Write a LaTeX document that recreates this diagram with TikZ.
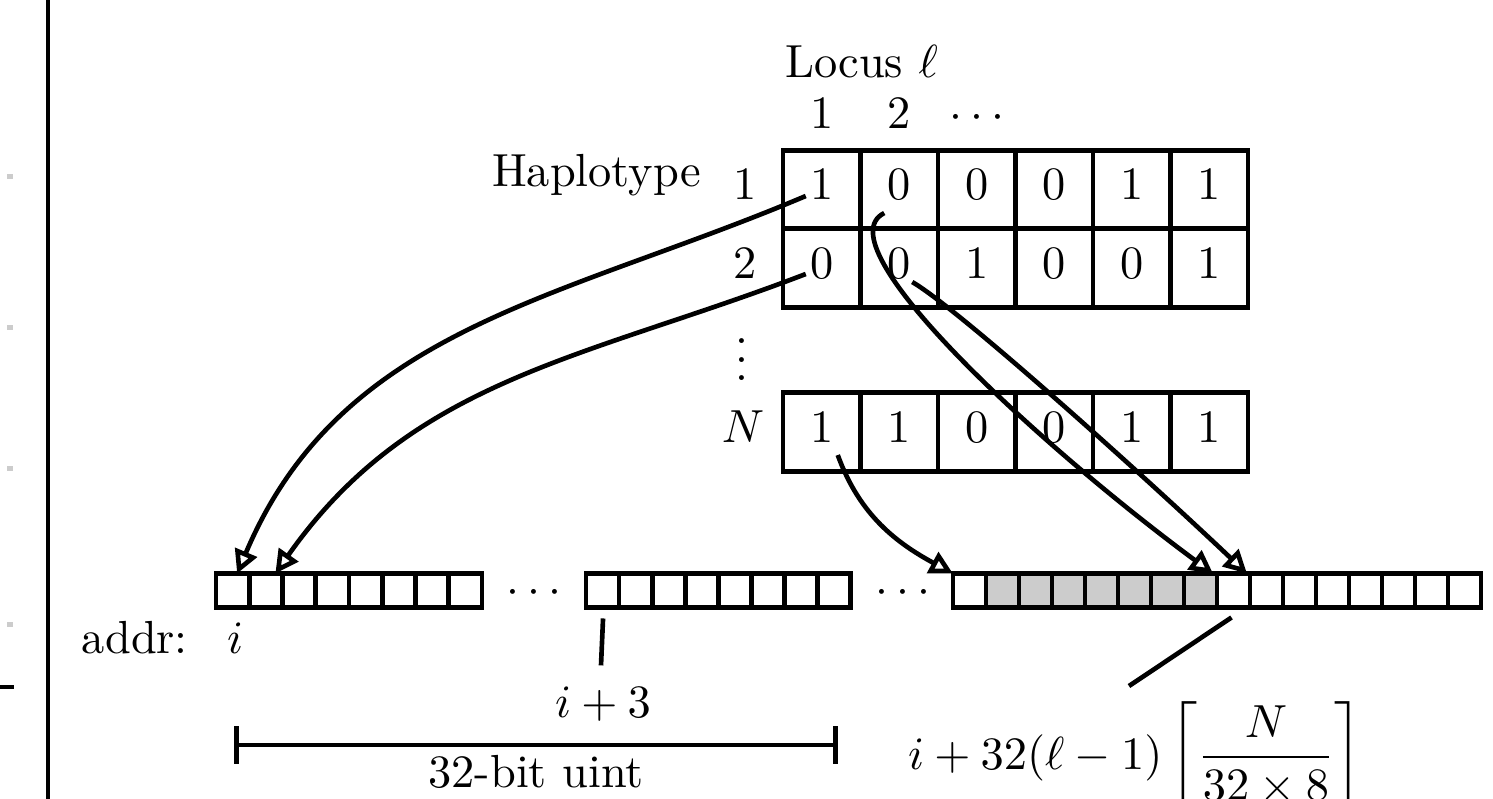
\documentclass[tikz,border=0pt]{standalone}
\usetikzlibrary{arrows.meta,calc}
\begin{document}
\begin{tikzpicture}[x=0.2155pt,y=-0.2155pt,
  every node/.style={inner sep=0pt,outer sep=0pt},
  ln/.style={line width=1pt},
  tcell/.style={draw,line width=1pt,minimum width=16.7pt,minimum height=16.9pt,text height=6.5pt,text depth=2pt},
  rlab/.style={text height=6.5pt,text depth=2pt},
  bcell/.style={draw,line width=1pt,minimum width=7.13pt,minimum height=7.3pt},
  gcell/.style={bcell,fill=black!20},
  arr/.style={line width=1pt,-{Triangle[open,length=5pt,width=5pt]}},
  ptr/.style={line width=1pt},
  speck/.style={fill=black!20}
]
\useasboundingbox (0,0) rectangle (1493,798);

% left margin remnants
\draw[ln] (48,-5) -- (48,803);
\draw[ln] (-2,687) -- (14,687);
\foreach \yy in {176,327,468,624} \fill[speck] (7.5,\yy-2.5) rectangle +(5,5);

% table
\foreach \v [count=\c] in {1,0,0,0,1,1}
  \node[tcell] (t1\c) at ({783+77.5*(\c-0.5)},189.5) {\v};
\foreach \v [count=\c] in {0,0,1,0,0,1}
  \node[tcell] (t2\c) at ({783+77.5*(\c-0.5)},268) {\v};
\foreach \v [count=\c] in {1,1,0,0,1,1}
  \node[tcell] (tN\c) at ({783+77.5*(\c-0.5)},432) {\v};

% labels of table
\node[anchor=base west] (locus) at (785,77) {Locus $\ell$};
\node[anchor=base] (cl1) at (821.75,128) {1};
\node[anchor=base] (cl2) at (899.25,128) {2};
\node[anchor=base] (cl3) at (977,128) {$\cdots$};
\node[anchor=base west] (hap) at (492,186) {Haplotype};
\node[rlab] (rl1) at (745,189.5) {1};
\node[rlab] (rl2) at (745,268) {2};
\node (rld) at (742,346) {$\vdots$};
\node[rlab] (rlN) at (743,432) {$N$};

% byte arrays
\foreach \k in {1,...,8}
  \node[bcell] (a\k) at ({216+33.25*(\k-0.5)},590.5) {};
\foreach \k in {1,...,8}
  \node[bcell] (b\k) at ({586+33.1*(\k-0.5)},590.5) {};
\node[bcell] (c1) at ({953+33*0.5},590.5) {};
\foreach \k in {2,...,8}
  \node[gcell] (c\k) at ({953+33*(\k-0.5)},590.5) {};
\foreach \k in {9,...,16}
  \node[bcell] (c\k) at ({953+33*(\k-0.5)},590.5) {};
\node[anchor=base] (dd1) at (534,603) {$\cdots$};
\node[anchor=base] (dd2) at (903,603) {$\cdots$};

% address labels
\node[anchor=base west] (addr) at (82,653) {addr:};
\node[anchor=base] (ai) at (235,653) {$i$};
\node[anchor=base] (lab3) at (603,717) {$i+3$};
\draw[ptr] ($(b1.south)+(0.5,11)$) -- ($(lab3.north)+(-2,-21)$);

\coordinate (brL) at (234,745);
\coordinate (brR) at (838,745);
\draw[ln,{Bar[width=8pt]}-{Bar[width=8pt]}] (brL) -- (brR);
\node[anchor=base] (uint) at (536,787) {32-bit uint};

\node[anchor=base west] (form) at (908,769) {$\displaystyle i+32(\ell-1)\left\lceil\frac{N}{32\times 8}\right\rceil$};
\coordinate (fl) at (1129,686);
\draw[ptr] ($(c9.south)+(-2,10)$) -- (fl);

% arrows
\draw[arr] ($(t11)+(-16,6.5)$) .. controls +(-246,104) and +(104,-246) .. ($(a1.north)+(4.5,0)$);
\draw[arr] ($(t21)+(-16,6)$) .. controls +(-222,85) and +(137,-195) .. ($(a2.north)+(9.5,0)$);
\draw[arr] ($(t12)+(-15,23.5)$) .. controls +(-64,32) and +(-172,-127) .. ($(c8.north east)+(-4,0)$);
\draw[arr] ($(t22)+(13,14)$) .. controls +(48,28) and +(-97,-92) .. ($(c9.north east)+(-3,0)$);
\draw[arr] ($(tN1)+(16,23)$) .. controls +(22,61) and +(-55,-30) .. (c1.north west);
\end{tikzpicture}
\end{document}
